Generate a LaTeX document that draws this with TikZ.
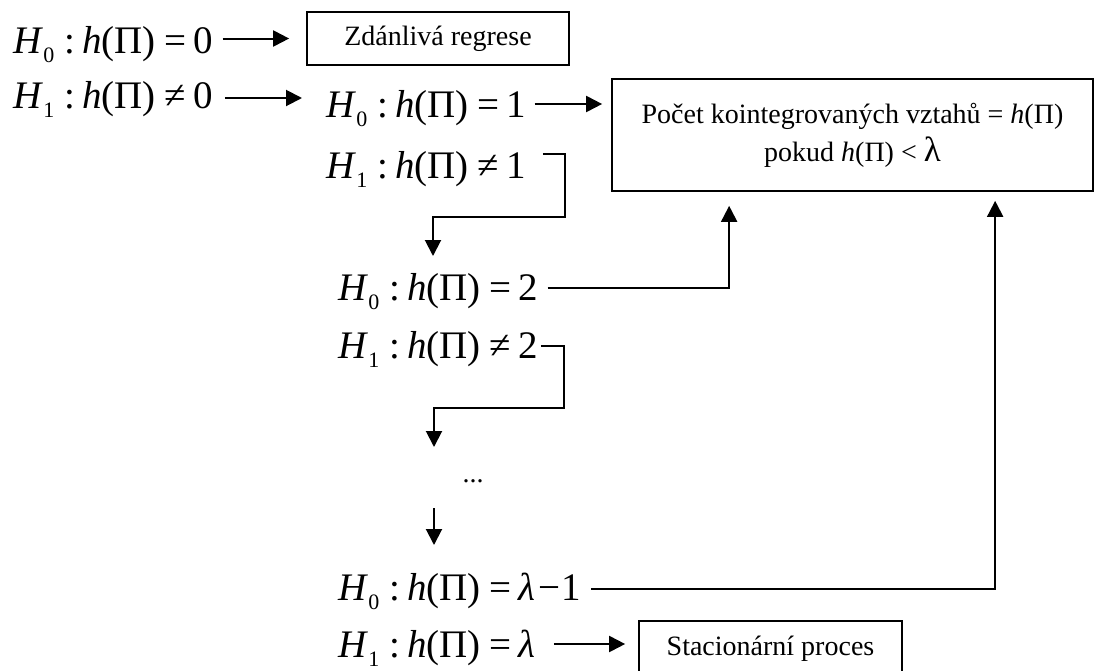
\documentclass[tikz,border=0pt]{standalone}
\usepackage{fontspec}
\setmainfont{Liberation Serif}
\usetikzlibrary{arrows.meta,calc}
\newcommand{\mathsz}{\fontsize{39}{42}\selectfont}
\newcommand{\subsz}{\fontsize{22}{24}\selectfont}
\newcommand{\boxsz}{\fontsize{28}{42}\selectfont}
\newcommand{\hyprow}[3]{{\itshape H}\kern2pt\raisebox{-9pt}{\subsz #1}\hspace{10pt}:\hspace{7pt}{\itshape h}(Π)\hspace{9pt}#2\hspace{7pt}#3}
\begin{document}
\begin{tikzpicture}[x=1pt,y=-1pt,
  arr/.style={-{Triangle[length=16pt,width=16pt]}, line width=2pt},
  hyp/.style={anchor=base west, inner sep=0pt, font=\mathsz},
  bx/.style={draw, line width=1.7pt, inner sep=0pt, font=\boxsz, align=center}]
\useasboundingbox[fill=white] (0,0) rectangle (1096,670);
% hypotheses
\node[hyp] (a0) at (13,53) {\hyprow{0}{=}{0}};
\node[hyp] (a1) at (13,108) {\hyprow{1}{≠}{0}};
\node[hyp] (b0) at (326,117) {\hyprow{0}{=}{1}};
\node[hyp] (b1) at (326,178) {\hyprow{1}{≠}{1}};
\node[hyp] (c0) at (338,300) {\hyprow{0}{=}{2}};
\node[hyp] (c1) at (338,358) {\hyprow{1}{≠}{2}};
\node[anchor=base, inner sep=0pt, font=\boxsz] (dots) at (473,482) {...};
\node[hyp] (d0) at (338,600) {\hyprow{0}{=}{{\itshape λ}\hspace{3pt}−\hspace{1pt}1}};
\node[hyp] (d1) at (338,657) {\hyprow{1}{=}{{\itshape λ}}};
% boxes
\node[bx, minimum width=262pt, minimum height=53pt] (zb) at (438,38.5) {Zdánlivá regrese};
\node[bx, minimum width=481pt, minimum height=112pt] (pk) at (852.5,135)
  {Počet kointegrovaných vztahů = {\itshape h}(Π)\\[-4pt] pokud {\itshape h}(Π) < {\fontsize{35}{35}\selectfont λ}};
\node[bx, minimum width=263pt, minimum height=55pt] (st) at (770.5,648.5) {Stacionární proces};
% connectors
\draw[arr] ([xshift=9pt]a0.east |- zb.west) -- ([xshift=-17pt]zb.west);
\draw[arr] ($(a1.base east)+(12,-10)$) -- ($(a1.base east -| b0.west)+(-24,-10)$);
\draw[arr] ($(b0.base east)+(8,-13)$) -- ($(b0.base east -| pk.west)+(-9,-13)$);
\draw[arr] ($(b1.base east)+(17,-24)$) -| ($(b1.base east)+(39,39)$) -| ($(c0.base west)+(95,-44)$);
\draw[arr] ($(c0.base east)+(9,-12)$) -| ($(pk.south west)+(118,14)$);
\draw[arr] ($(c1.base east)+(3,-12)$) -| ($(c1.base east)+(26,50)$) -| ($(dots.base)+(-39,-35)$);
\draw[arr] ($(dots.base)+(-39,26)$) -- ($(d0.base west)+(96,-55)$);
\draw[arr] ($(d0.base east)+(10,-11)$) -| ($(pk.south west)+(384,9)$);
\draw[arr] ($(d1.base east)+(18,-13)$) -- ($(d1.base east -| st.west)+(-13,-13)$);
\end{tikzpicture}
\end{document}
